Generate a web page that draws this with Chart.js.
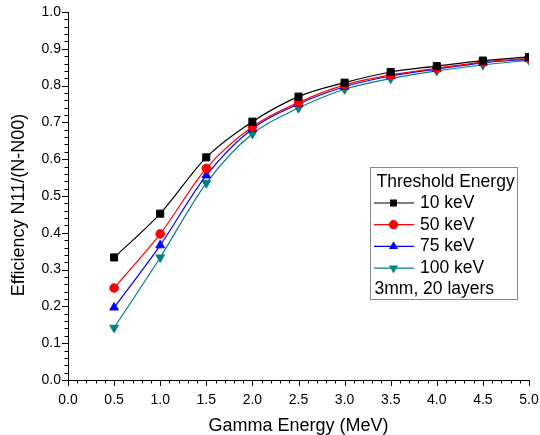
<!DOCTYPE html>
<html>
<head>
<meta charset="utf-8">
<script src="https://cdn.jsdelivr.net/npm/chart.js@4"></script>
<style>
  html, body { margin: 0; padding: 0; background: #fff; }
  #wrap { width: 540px; height: 435px; }
</style>
</head>
<body>
<div id="wrap"><canvas id="grafico"></canvas></div>
<script>
const energias = [0.5, 1.0, 1.5, 2.0, 2.5, 3.0, 3.5, 4.0, 4.5, 5.0];
const ef_10keV  = [0.333, 0.452, 0.605, 0.702, 0.770, 0.808, 0.837, 0.853, 0.868, 0.878];
const ef_50keV  = [0.250, 0.397, 0.575, 0.688, 0.754, 0.802, 0.829, 0.847, 0.864, 0.874];
const ef_75keV  = [0.197, 0.366, 0.556, 0.683, 0.750, 0.797, 0.826, 0.845, 0.862, 0.872];
const ef_100keV = [0.142, 0.333, 0.535, 0.669, 0.739, 0.790, 0.819, 0.840, 0.856, 0.869];
const xTicks = [0.0, 0.5, 1.0, 1.5, 2.0, 2.5, 3.0, 3.5, 4.0, 4.5, 5.0];
const yTicks = [0.0, 0.1, 0.2, 0.3, 0.4, 0.5, 0.6, 0.7, 0.8, 0.9, 1.0];

const FONTE = "'Liberation Sans', Arial, sans-serif";

function serie(label, valores, cor, estilo, rot, raio) {
    return {
        label: label,
        data: energias.map((x, i) => ({ x: x, y: valores[i] })),
        borderColor: cor,
        backgroundColor: cor,
        borderWidth: 1.2,
        pointStyle: estilo,
        pointRotation: rot,
        pointRadius: raio,
        pointBorderWidth: 1,
        cubicInterpolationMode: 'monotone'
    };
}

// desenha os ticks maiores e menores nos eixos + titulo do eixo y
const ticksPlugin = {
    id: 'ticksMinor',
    afterDraw(chart) {
        const ctx = chart.ctx;
        const xs = chart.scales.x, ys = chart.scales.y;
        const area = chart.chartArea;
        ctx.save();
        ctx.strokeStyle = '#000';
        ctx.lineWidth = 1;
        ctx.beginPath();
        for (let i = 0; i <= 50; i++) {
            const px = Math.round(xs.getPixelForValue(i * 0.1)) + 0.5;
            const len = i % 5 === 0 ? 6 : 3.5;
            ctx.moveTo(px, area.bottom);
            ctx.lineTo(px, area.bottom + len);
        }
        for (let i = 0; i <= 50; i++) {
            const py = Math.round(ys.getPixelForValue(i * 0.02)) + 0.5;
            const len = i % 5 === 0 ? 6 : 3.5;
            ctx.moveTo(area.left, py);
            ctx.lineTo(area.left - len, py);
        }
        ctx.stroke();

        ctx.translate(19, 205);
        ctx.rotate(-Math.PI / 2);
        ctx.fillStyle = '#000';
        ctx.font = '18px ' + FONTE;
        ctx.textAlign = 'center';
        ctx.textBaseline = 'middle';
        ctx.fillText('Efficiency N11/(N-N00)', 0, 0);
        ctx.restore();
    }
};

// legenda dentro da area do grafico
const legendaPlugin = {
    id: 'legendaCaixa',
    afterDraw(chart) {
        const ctx = chart.ctx;
        const x0 = 370.5, y0 = 167.5, w = 147, h = 132;
        ctx.save();
        ctx.fillStyle = '#fff';
        ctx.fillRect(x0, y0, w, h);
        ctx.strokeStyle = '#888';
        ctx.lineWidth = 1;
        ctx.strokeRect(x0, y0, w, h);
        ctx.fillStyle = '#000';
        ctx.font = '17.5px ' + FONTE;
        ctx.textBaseline = 'middle';
        ctx.fillText('Threshold Energy', 376.5, 182);
        chart.data.datasets.forEach((ds, i) => {
            const y = 203 + i * 21.7;
            ctx.strokeStyle = ds.borderColor;
            ctx.lineWidth = 1.2;
            ctx.beginPath();
            ctx.moveTo(374, y);
            ctx.lineTo(414, y);
            ctx.stroke();
            ctx.fillStyle = ds.backgroundColor;
            ctx.strokeStyle = ds.borderColor;
            Chart.helpers.drawPoint(ctx, { pointStyle: ds.pointStyle, rotation: ds.pointRotation, radius: 4, borderWidth: 1 }, 393.5, y);
            ctx.fillStyle = '#000';
            ctx.fillText(ds.label, 420, y);
        });
        ctx.fillText('3mm, 20 layers', 374.5, 289);
        ctx.restore();
    }
};

new Chart(document.getElementById('grafico'), {
    type: 'line',
    data: {
        datasets: [
            serie('10 keV', ef_10keV, '#000000', 'rect', 0, 5),
            serie('50 keV', ef_50keV, '#ff0000', 'circle', 0, 4.3),
            serie('75 keV', ef_75keV, '#0000ff', 'triangle', 0, 5),
            serie('100 keV', ef_100keV, '#008080', 'triangle', 180, 5)
        ]
    },
    options: {
        responsive: true,
        maintainAspectRatio: false,
        animation: false,
        layout: { padding: 0 },
        plugins: {
            legend: { display: false },
            tooltip: { enabled: false }
        },
        scales: {
            x: {
                type: 'linear',
                min: 0, max: 5,
                afterBuildTicks: s => { s.ticks = xTicks.map(v => ({ value: v })); },
                afterFit: s => { s.height = 55; s.paddingRight = 11; s.paddingLeft = 0; },
                grid: { drawOnChartArea: false, drawTicks: false },
                border: { color: '#000', width: 1 },
                ticks: {
                    padding: 12,
                    color: '#000',
                    font: { family: FONTE, size: 14 },
                    callback: v => v.toFixed(1)
                },
                title: {
                    display: true,
                    text: 'Gamma Energy (MeV)',
                    color: '#000',
                    font: { family: FONTE, size: 18, lineHeight: 1.0 },
                    padding: { top: 4, bottom: 0 }
                }
            },
            y: {
                min: 0, max: 1,
                afterBuildTicks: s => { s.ticks = yTicks.map(v => ({ value: v })); },
                afterFit: s => { s.width = 68; s.paddingTop = 12; s.paddingBottom = 0; },
                grid: { drawOnChartArea: false, drawTicks: false },
                border: { color: '#000', width: 1 },
                ticks: {
                    padding: 7,
                    color: '#000',
                    font: { family: FONTE, size: 14 },
                    callback: v => v.toFixed(1)
                }
            }
        }
    },
    plugins: [ticksPlugin, legendaPlugin]
});
</script>
</body>
</html>
